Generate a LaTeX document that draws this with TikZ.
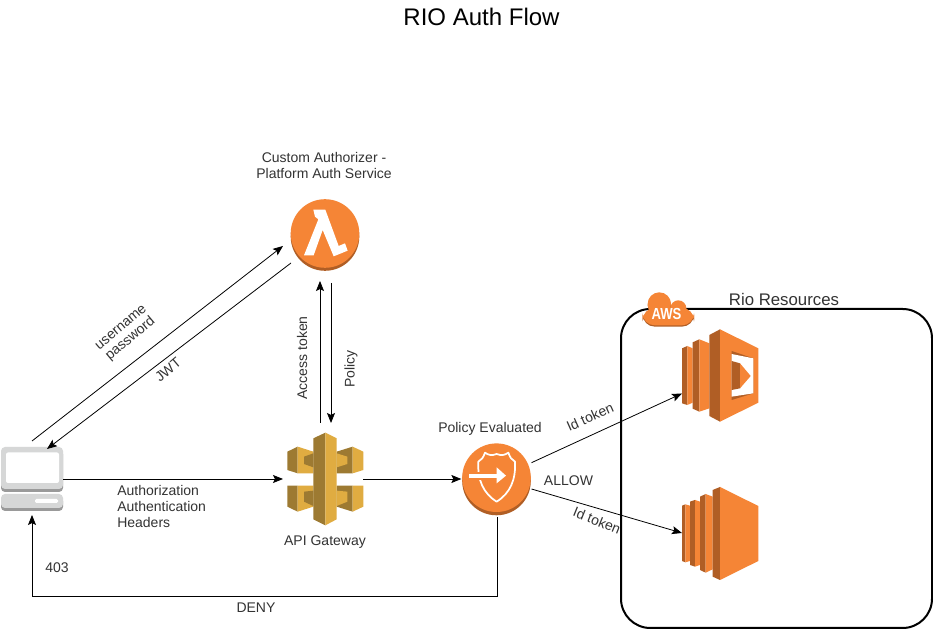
\documentclass[tikz,border=0pt]{standalone}
\usepackage{fontspec}
\setmainfont{Liberation Sans}
\usetikzlibrary{arrows.meta}
\definecolor{AwsOrange}{HTML}{F58536}
\definecolor{AwsDark}{HTML}{B05E25}
\definecolor{GateLight}{HTML}{E0AC41}
\definecolor{GateDark}{HTML}{9D7A32}
\definecolor{PcLight}{HTML}{D6D7D7}
\definecolor{PcDark}{HTML}{9A9A9A}
\definecolor{TextGray}{HTML}{333333}
\tikzset{
  flow/.style={-{Stealth[length=7.5pt,width=6pt,inset=1.5pt]}, line width=0.6pt},
  iconbox/.style={inner sep=0pt, outer sep=0pt},
  lbl/.style={inner sep=0pt, font=\fontsize{10.5pt}{12pt}\selectfont, text=TextGray, align=center},
}
\begin{document}
\begin{tikzpicture}[x=0.75pt,y=-0.75pt]
\useasboundingbox (0,0) rectangle (933,630);
\fill[white] (0,0) rectangle (933,630);
%resources box
\node[iconbox, draw=black, line width=1.5pt, rounded corners=22pt, minimum width=233.25pt, minimum height=239.25pt] (resources) at (776.5,468.5) {};
%laptop
\node[iconbox, minimum width=46.5pt, minimum height=48pt] (laptop) at (32,479) {};
\fill[PcDark, rounded corners=3pt] (1,450) rectangle (63,492);
\fill[PcLight, rounded corners=3pt] (1,447) rectangle (63,489);
\fill[white, rounded corners=1.5pt] (6,452.5) rectangle (59,483);
\fill[PcDark, rounded corners=3pt] (1,497) rectangle (63,511);
\fill[PcLight, rounded corners=3pt] (1,494) rectangle (63,508);
\fill[white, rounded corners=1pt] (35,499) rectangle (58,503);
%authorizer
\node[iconbox, minimum width=51.5pt, minimum height=51.5pt] (authorizer) at (325,233.5) {};
\fill[AwsDark] (325,236.5) circle (34.3);
\fill[AwsOrange] (325,233.5) circle (34.3);
\begin{scope}[shift={(260,180)},scale=1/3]
\fill[white] (160,89) -- (196,89) -- (236,198) -- (255,190) -- (263,212) -- (221,229) -- (188,150) -- (161,226) -- (132,226) -- (175,118) -- (165,110) -- cycle;
\end{scope}
%gateway
\node[iconbox, minimum width=60pt, minimum height=69pt] (gateway) at (323,479) {};
\begin{scope}[shift={(270,420)},scale=1/3]
\fill[GateDark] (52,95) -- (83,80) -- (83,160) -- (52,150) -- cycle;
\fill[GateLight] (83,80) -- (130,95) -- (130,160) -- (83,160) -- cycle;
\fill[GateDark] (102,110) -- (130,100) -- (130,142) -- (102,132) -- cycle;
\fill[GateDark] (200,95) -- (248,80) -- (248,160) -- (200,160) -- cycle;
\fill[GateLight] (248,80) -- (280,95) -- (280,150) -- (248,160) -- cycle;
\fill[GateLight] (200,100) -- (232,110) -- (232,132) -- (200,142) -- cycle;
\fill[GateDark] (52,197) -- (83,197) -- (83,275) -- (52,260) -- cycle;
\fill[GateLight] (83,197) -- (130,197) -- (130,260) -- (83,275) -- cycle;
\fill[GateDark] (102,215) -- (130,212) -- (130,258) -- (102,245) -- cycle;
\fill[GateDark] (200,197) -- (248,197) -- (248,275) -- (200,260) -- cycle;
\fill[GateLight] (248,197) -- (280,197) -- (280,260) -- (248,275) -- cycle;
\fill[GateLight] (200,212) -- (232,215) -- (232,245) -- (200,258) -- cycle;
\fill[GateDark] (166,38) -- (130,55) -- (130,298) -- (166,316) -- cycle;
\fill[GateLight] (166,38) -- (200,55) -- (200,298) -- (166,316) -- cycle;
\end{scope}
%policy
\node[iconbox, minimum width=52pt, minimum height=52pt] (policy) at (496,479) {};
\fill[AwsDark] (496.5,481) circle (34.3);
\fill[AwsOrange] (496.5,477.7) circle (34.3);
\begin{scope}[shift={(450,430)},scale=1/3]
\draw[white, line width=1.3pt, line join=round] (140,72) .. controls (125,78) and (115,75) .. (105,68) .. controls (100,82) and (95,90) .. (85,95) .. controls (82,150) and (100,190) .. (140,215) .. controls (180,190) and (198,150) .. (195,95) .. controls (185,90) and (180,82) .. (175,68) .. controls (165,75) and (155,78) .. (140,72) -- cycle;
\fill[AwsOrange] (72,125) rectangle (140,150);
\fill[white] (57,131) rectangle (140,143);
\fill[white] (140,112) -- (168,137) -- (140,160) -- cycle;
\end{scope}
%aws cloud
\foreach \dy/\col in {1.3/AwsDark,0/AwsOrange}{
\begin{scope}[shift={(610,280+\dy)},scale=1/3]
\fill[\col] (148,72) circle (35);
\fill[\col] (205,85) circle (24);
\fill[\col, rounded corners=9pt] (98,84) rectangle (252,136);
\end{scope}
}
\node[iconbox, text=white, font=\fontsize{12pt}{12pt}\bfseries\selectfont, xscale=0.82] (awslogo) at (666.5,314) {AWS};
%lambda function
\node[iconbox, minimum width=57pt, minimum height=69.5pt] (lambdafn) at (721,376) {};
\begin{scope}[shift={(610,280)},scale=1/3]
\fill[AwsDark] (216,205) -- (232,198) -- (232,375) -- (216,370) -- cycle;
\fill[AwsOrange] (232,198) -- (248,205) -- (248,368) -- (232,375) -- cycle;
\fill[AwsDark] (248,187) -- (268,178) -- (268,395) -- (248,386) -- cycle;
\fill[AwsOrange] (268,178) -- (298,190) -- (298,385) -- (268,395) -- cycle;
\fill[AwsDark] (298,165) -- (330,148) -- (330,425) -- (298,408) -- cycle;
\fill[AwsOrange] (330,148) -- (445,205) -- (445,368) -- (330,425) -- cycle;
\fill[AwsDark] (365,213) -- (430,235) -- (430,340) -- (365,360) -- cycle;
\fill[white] (365,222) -- (430,235) -- (430,340) -- (365,350) -- cycle;
\fill[AwsDark] (365,243) -- (390,250) -- (390,325) -- (365,330) -- cycle;
\fill[AwsOrange] (390,250) -- (422,288) -- (390,325) -- cycle;
\end{scope}
%ec2
\node[iconbox, minimum width=57pt, minimum height=69.5pt] (ecbox) at (721,533) {};
\begin{scope}[shift={(660,475)},scale=1/3]
\fill[AwsDark] (66,92) -- (76,88) -- (76,262) -- (66,258) -- cycle;
\fill[AwsOrange] (76,88) -- (90,92) -- (90,258) -- (76,262) -- cycle;
\fill[AwsDark] (90,80) -- (105,75) -- (105,275) -- (90,270) -- cycle;
\fill[AwsOrange] (105,75) -- (120,80) -- (120,270) -- (105,275) -- cycle;
\fill[AwsDark] (120,65) -- (137,57) -- (137,293) -- (120,285) -- cycle;
\fill[AwsOrange] (137,57) -- (158,65) -- (158,283) -- (137,293) -- cycle;
\fill[AwsDark] (158,45) -- (180,36) -- (180,315) -- (158,305) -- cycle;
\fill[AwsOrange] (180,36) -- (295,93) -- (295,258) -- (180,315) -- cycle;
\end{scope}
%free ends of the side by side arrows
\coordinate (loginOut) at (32,441);
\coordinate (loginIn) at (283,246);
\coordinate (jwtOut) at (291,263);
\coordinate (jwtIn) at (47,449);
\coordinate (tokenOut) at (320,423);
\coordinate (tokenIn) at (320,281);
\coordinate (policyOut) at (331,283);
\coordinate (policyIn) at (331,423);
\coordinate (allowOut) at (531.5,462.7);
\coordinate (allowIn) at (682,393.5);
\coordinate (idOut) at (531.5,489);
\coordinate (idIn) at (682,533);
\coordinate (rejectOut) at (497,517);
\coordinate (rejectBend) at (32,596);
\coordinate (rejectIn) at (32,515);
%arrows
\draw[flow] (loginOut) -- (loginIn);
\draw[flow] (jwtOut) -- (jwtIn);
\draw[flow] (laptop.east) -- (gateway.west);
\draw[flow] (gateway.east) -- (policy.west);
\draw[flow] (tokenOut) -- (tokenIn);
\draw[flow] (policyOut) -- (policyIn);
\draw[flow] (allowOut) -- (allowIn);
\draw[flow] (idOut) -- (idIn);
\draw[flow] (rejectOut) |- (rejectBend) -- (rejectIn);
%labels
\node[lbl, text=black, font=\fontsize{18pt}{20pt}\selectfont] (title) at (481.5,17) {RIO Auth Flow};
\node[lbl] (authorizerText) at (324,166) {Custom Authorizer -\\Platform Auth Service};
\node[lbl, rotate=40] (loginText) at (126.5,334) {username\\[-1pt]password};
\node[lbl, rotate=40] (jwtText) at (168,370) {JWT};
\node[lbl, rotate=90] (tokenText) at (302,358) {Access token};
\node[lbl, rotate=90] (policyText) at (351,369) {Policy};
\node[lbl, align=left, anchor=west] (headersText) at (117,506.5) {Authorization\\Authentication\\Headers};
\node[lbl] (gatewayText) at (325,542) {API Gateway};
\node[lbl] (policyName) at (490,429) {Policy Evaluated};
\node[lbl] (allowText) at (568.5,481) {ALLOW};
\node[lbl, rotate=24] (idTextTop) at (590,417) {Id token};
\node[lbl, rotate=-22] (idTextLow) at (597,520.5) {Id token};
\node[lbl] (codeText) at (57,568) {403};
\node[lbl] (denyText) at (256,607.5) {DENY};
\node[lbl, font=\fontsize{12.6pt}{14pt}\selectfont] (resourcesText) at (784,299) {Rio Resources};
\end{tikzpicture}
\end{document}
